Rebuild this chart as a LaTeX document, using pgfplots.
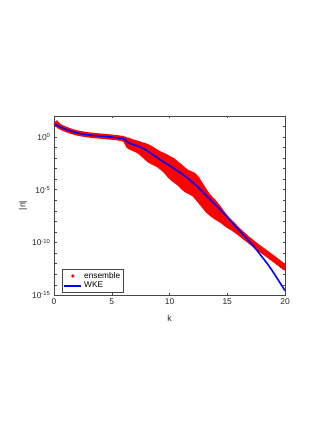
\documentclass[border=0pt]{standalone}
\usepackage{fontspec}
\setmainfont{Liberation Sans}
\usepackage{pgfplots}
\pgfplotsset{compat=1.18}
\definecolor{axgray}{RGB}{70,70,70}

\begin{document}
\begin{tikzpicture}[x=1pt,y=1pt]
\path[use as bounding box] (-54,-127.7) rectangle (273,295.3);
\begin{axis}[
  at={(0,0)}, anchor=south west,
  scale only axis, width=231pt, height=179.6pt,
  xmin=0, xmax=20, ymin=-15, ymax=2,
  xtick={0,5,...,20},
  ytick={-15,-10,-5,0},
  yticklabels={10\textsuperscript{-15},10\textsuperscript{-10},10\textsuperscript{-5},10\textsuperscript{0}},
  minor ytick={-14,-13,-12,-11,-9,-8,-7,-6,-4,-3,-2,-1,1},
  tick align=inside,
  major tick length=2.5pt, minor tick length=2.5pt,
  axis line style={axgray, line width=0.4pt},
  every tick/.style={axgray, line width=0.4pt},
  tick label style={font=\fontsize{8.4}{9}\selectfont, text=black!85},
  /pgf/number format/assume math mode=true,
  xlabel={k}, ylabel={|n|},
  label style={font=\fontsize{8.8}{9}\selectfont, text=black!85},
  xlabel style={yshift=-3.5pt},
  ylabel style={yshift=-2pt},
  legend style={at={(0.036,0.0145)}, anchor=south west, draw=axgray, line width=0.4pt,
    font=\fontsize{8.3}{9}\selectfont, inner xsep=1pt, inner ysep=1pt,
    row sep=-1.5pt, cells={anchor=west}},
  legend cell align=left,
]
% ensemble spread: upper edge, then lower edge back
\addplot[draw=red, fill=red, line width=4.6pt, line join=round, forget plot] table {
k y
0.1 1.45
0.2 1.3
0.35 1.15
0.5 1.0
0.75 0.86
1.0 0.75
1.5 0.55
2.0 0.4
2.5 0.29
3.0 0.21
3.5 0.15
4.0 0.1
4.5 0.05
5.0 0.0
5.5 -0.06
5.9 -0.13
6.15 -0.2
6.3 -0.3
6.45 -0.28
6.6 -0.38
6.8 -0.45
7.0 -0.52
7.3 -0.6
7.6 -0.72
7.9 -0.82
8.2 -0.95
8.5 -1.15
8.8 -1.35
9.1 -1.55
9.4 -1.7
9.7 -1.85
10.0 -2.05
10.3 -2.2
10.6 -2.5
10.9 -2.75
11.2 -3.05
11.5 -3.3
11.8 -3.45
12.1 -3.6
12.4 -3.95
12.7 -4.5
13.0 -5.0
13.3 -5.5
13.6 -5.85
13.9 -6.2
14.2 -6.6
14.5 -7.05
14.8 -7.5
15.1 -7.85
15.5 -8.3
16.0 -8.85
16.7 -9.55
17.5 -10.25
18.5 -11.05
19.3 -11.7
20.0 -12.3
20.0 -12.45
19.3 -11.85
18.5 -11.2
17.5 -10.4
16.7 -9.7
16.0 -9.1
15.5 -8.7
15.1 -8.45
14.8 -8.2
14.5 -7.95
14.2 -7.75
13.9 -7.55
13.6 -7.3
13.3 -7.0
13.0 -6.6
12.7 -6.2
12.4 -5.8
12.1 -5.45
11.8 -5.25
11.5 -5.1
11.2 -4.85
10.9 -4.5
10.6 -4.25
10.3 -4.0
10.0 -3.7
9.7 -3.3
9.4 -3.0
9.1 -2.75
8.8 -2.55
8.5 -2.4
8.2 -2.2
7.9 -1.9
7.6 -1.6
7.3 -1.35
7.0 -1.2
6.8 -1.1
6.6 -1.0
6.45 -0.9
6.3 -0.6
6.15 -0.3
5.9 -0.2
5.5 -0.12
5.0 -0.06
4.5 -0.01
4.0 0.04
3.5 0.09
3.0 0.15
2.5 0.23
2.0 0.34
1.5 0.49
1.0 0.69
0.75 0.8
0.5 0.94
0.35 1.08
0.2 1.22
0.1 1.35
};
\addlegendimage{only marks, mark=*, mark size=1.5pt, red}
\addlegendentry{ensemble}
\addplot[blue, line width=1.6pt, smooth, tension=0.4] table {
k y
0.1 1.2
0.25 1.1
0.5 0.96
0.75 0.83
1.0 0.72
1.5 0.52
2.0 0.37
2.5 0.26
3.0 0.18
3.5 0.12
4.0 0.07
4.5 0.02
5.0 -0.03
5.5 -0.09
5.9 -0.16
6.1 -0.22
6.25 -0.35
6.4 -0.52
6.6 -0.63
7.0 -0.78
7.5 -0.98
8.0 -1.28
8.5 -1.65
9.0 -2.02
9.5 -2.38
10.0 -2.72
10.5 -3.08
11.0 -3.45
11.5 -3.85
12.0 -4.3
12.5 -4.8
13.0 -5.35
13.5 -5.9
14.0 -6.45
14.5 -7.0
15.0 -7.6
15.5 -8.2
16.0 -8.8
16.5 -9.4
17.0 -10.0
17.5 -10.65
18.0 -11.35
18.5 -12.05
19.0 -12.85
19.5 -13.7
20.0 -14.55
};
\addlegendentry{WKE}
\end{axis}
\end{tikzpicture}
\end{document}
